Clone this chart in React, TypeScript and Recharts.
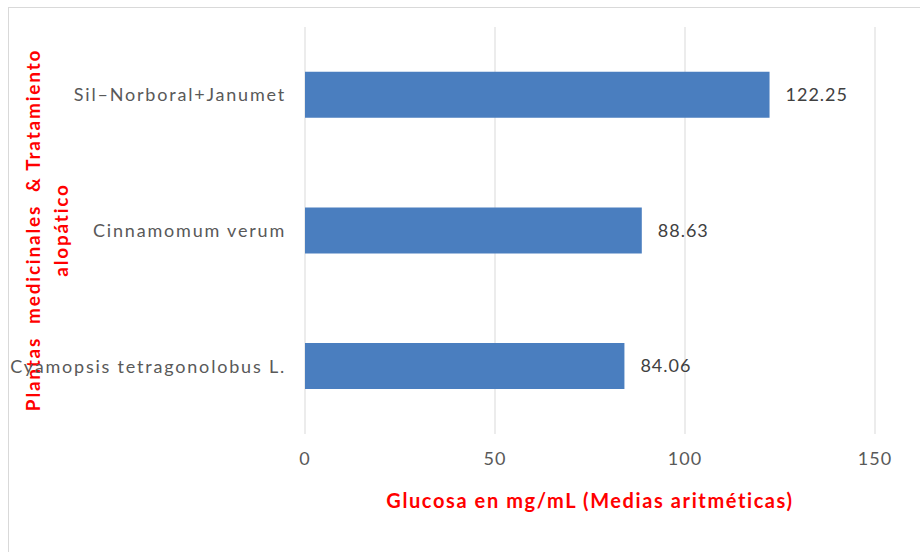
import { BarChart, Bar, XAxis, YAxis, CartesianGrid, LabelList } from "recharts"

const categories = ["Sil\u2013Norboral+Janumet", "Cinnamomum verum", "Cyamopsis tetragonolobus L."]
const glucosa = [122.25, 88.63, 84.06]
const xTicks = [0, 50, 100, 150]
const frameTicks = [0, 1, 2, 3]

const data = categories.map((name, i) => ({ name, glucosa: glucosa[i] }))

const font = "Lato, 'Open Sans', sans-serif"

export default function App() {
  return (
    <div style={{ position: "absolute", left: 0, top: 0, width: 920, height: 552, overflow: "hidden", background: "#fff" }}>
      <div
        style={{
          position: "absolute",
          left: 8,
          top: 7,
          width: 930,
          height: 560,
          border: "1px solid #d9d9d9",
          boxSizing: "border-box",
        }}
      />
      <BarChart
        width={920}
        height={552}
        data={data}
        layout="vertical"
        barCategoryGap="33%"
        margin={{ top: 27, right: 45, bottom: 78, left: 15 }}
        style={{ position: "absolute", left: 0, top: 0, fontFamily: font }}
      >
        <CartesianGrid yAxisId="cat" horizontal={false} stroke="#d9d9d9" />
        <XAxis
          type="number"
          domain={[0, 150]}
          ticks={xTicks}
          height={40}
          axisLine={false}
          tickLine={false}
          tickSize={0}
          tickMargin={18}
          tick={{ fill: "#595959", fontSize: 18, letterSpacing: 1 }}
          label={{
            value: "Glucosa  en mg/mL (Medias  aritméticas)",
            position: "bottom",
            offset: 20,
            fill: "#ff0000",
            fontSize: 20,
            fontWeight: 700,
            style: { whiteSpace: "pre", letterSpacing: 1.6 },
          }}
        />
        <YAxis
          yAxisId="frame"
          type="number"
          domain={[0, 3]}
          ticks={frameTicks}
          width={0}
          tickSize={7}
          tickFormatter={() => ""}
          axisLine={{ stroke: "#d9d9d9" }}
          tickLine={{ stroke: "#d9d9d9" }}
        />
        <YAxis
          yAxisId="cat"
          type="category"
          dataKey="name"
          width={290}
          axisLine={false}
          tickLine={false}
          tickSize={0}
          tickMargin={19}
          tick={{ fill: "#595959", fontSize: 18, letterSpacing: 1.8 }}
          label={{
            content: () => (
              <text
                transform="translate(48, 230) rotate(-90)"
                textAnchor="middle"
                fill="#ff0000"
                fontSize={19}
                fontWeight={700}
                fontFamily={font}
                style={{ whiteSpace: "pre", letterSpacing: 1.8 }}
              >
                <tspan x={0} dy={-8}>Plantas  medicinales  &amp; Tratamiento</tspan>
                <tspan x={0} dy={28}>alopático</tspan>
              </text>
            ),
          }}
        />
        <Bar yAxisId="cat" dataKey="glucosa" fill="#4a7ebf" isAnimationActive={false}>
          <LabelList
            dataKey="glucosa"
            position="right"
            offset={16}
            fill="#404040"
            fontSize={18}
            style={{ letterSpacing: 1 }}
          />
        </Bar>
      </BarChart>
    </div>
  )
}
